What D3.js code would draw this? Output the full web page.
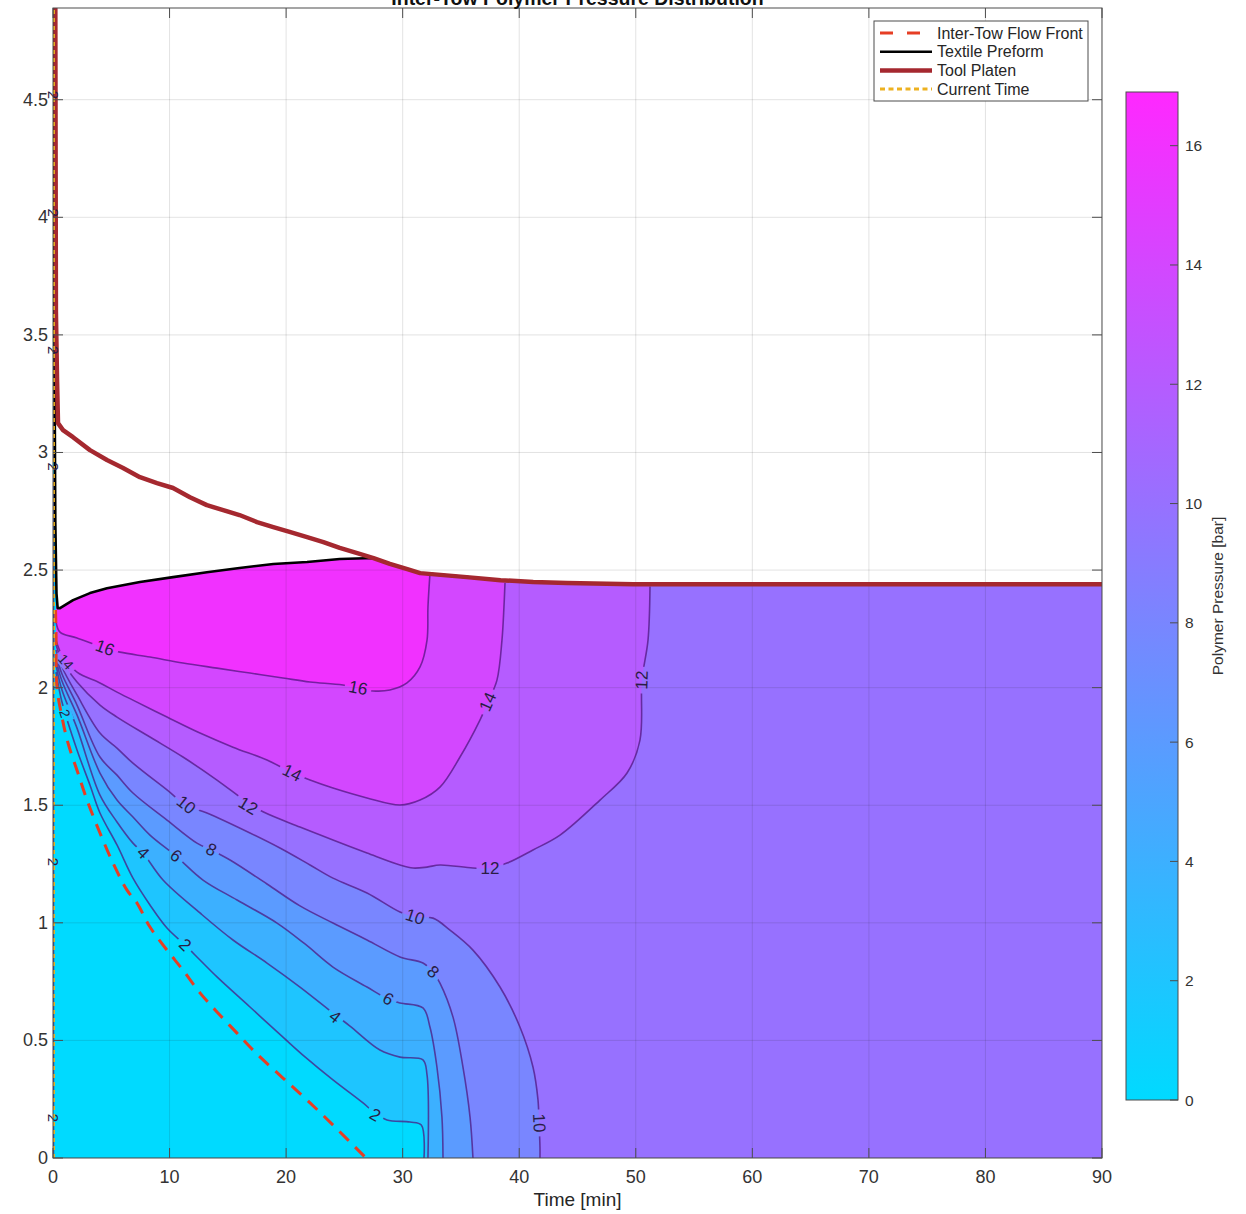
<!DOCTYPE html>
<html><head><meta charset="utf-8">
<script src="https://cdn.jsdelivr.net/npm/d3@7"></script>
<style>
body{margin:0;background:#fff;}
text{font-family:"Liberation Sans",Arial,Helvetica,sans-serif;}
</style>
</head><body>
<svg id="chart" width="1246" height="1214"></svg>
<script>
// ---------------- DATA ----------------
const xDomain = [0, 90];
const yDomain = [0, 4.89];
const xTicks = [0,10,20,30,40,50,60,70,80,90];
const yTicks = [0,0.5,1,1.5,2,2.5,3,3.5,4,4.5];
const cbTicks = [0,2,4,6,8,10,12,14,16];
const cbMax = 16.9;
const levels = [2,4,6,8,10,12,14,16];

// contour lines [time, height]
const contour2 = [[0.26,2.066],[0.77,1.939],[2.06,1.735],[3.17,1.586],[4.03,1.467],[5.49,1.331],[6.86,1.190],[8.32,1.076],[9.78,0.978],[11.32,0.906],[12.61,0.842],[14.07,0.770],[16.90,0.642],[19.73,0.514],[21.62,0.430],[24.02,0.332],[26.60,0.234],[27.63,0.191],[28.65,0.162],[30.63,0.153],[31.60,0.140],[31.83,0]];
const contour4 = [[0.26,2.096],[0.77,1.990],[2.06,1.828],[4.03,1.543],[5.49,1.429],[6.86,1.339],[7.72,1.297],[9.44,1.182],[12.61,1.042],[15.44,0.927],[18.36,0.829],[21.19,0.727],[24.19,0.610],[25.48,0.561],[28.05,0.459],[29.77,0.429],[31.74,0.417],[32.09,0.353],[32.17,0]];
const contour6 = [[0.26,2.117],[0.77,2.028],[2.06,1.884],[4.03,1.637],[5.49,1.522],[6.86,1.450],[8.32,1.373],[10.55,1.284],[12.87,1.182],[15.79,1.097],[19.22,0.999],[21.62,0.910],[24.02,0.812],[26.94,0.727],[28.74,0.676],[29.77,0.659],[31.74,0.638],[32.34,0.557],[32.94,0.387],[33.37,0.174],[33.46,0]];
const contour8 = [[0.26,2.139],[0.77,2.058],[2.06,1.926],[4.03,1.705],[5.49,1.628],[6.86,1.552],[9.78,1.437],[12.35,1.339],[13.56,1.310],[15.19,1.267],[18.36,1.165],[21.19,1.072],[24.02,0.999],[26.94,0.927],[29.77,0.855],[31.74,0.829],[32.60,0.791],[33.20,0.744],[34.32,0.599],[35.17,0.387],[35.78,0.174],[36.03,0]];
const contour10 = [[0.26,2.160],[0.77,2.088],[2.06,1.969],[4.03,1.807],[5.49,1.743],[6.86,1.679],[9.78,1.565],[11.41,1.501],[13.21,1.467],[16.90,1.382],[19.47,1.318],[22.05,1.246],[24.02,1.190],[26.94,1.127],[29.77,1.046],[31.06,1.025],[32.60,1.020],[34.06,0.969],[36.03,0.884],[38.35,0.727],[40.06,0.557],[41.18,0.387],[41.61,0.247],[41.70,0.149],[41.78,0.047],[41.78,0]];
const contour12 = [[0.26,2.181],[0.77,2.117],[2.06,2.024],[4.03,1.926],[5.49,1.875],[8.32,1.790],[11.15,1.705],[14.07,1.607],[16.73,1.510],[18.02,1.472],[21.19,1.407],[24.02,1.352],[26.94,1.297],[29.77,1.246],[30.89,1.233],[32.09,1.237],[33.20,1.246],[36.03,1.233],[37.49,1.233],[38.95,1.254],[41.18,1.310],[43.50,1.373],[46.93,1.522],[49.25,1.637],[50.36,1.777],[50.53,2.032],[51.05,2.202],[51.22,2.430]];
const contour14 = [[0.26,2.202],[0.77,2.139],[2.06,2.066],[4.03,2.020],[5.49,1.981],[6.86,1.947],[9.78,1.875],[12.61,1.807],[15.44,1.747],[18.36,1.692],[20.59,1.637],[22.05,1.607],[24.02,1.573],[26.94,1.531],[29.77,1.501],[31.49,1.522],[33.20,1.577],[34.92,1.705],[36.63,1.862],[37.32,1.939],[38.09,2.032],[38.52,2.202],[38.69,2.343],[38.78,2.445]];
const contour16 = [[0.26,2.280],[0.60,2.236],[2.06,2.211],[4.46,2.168],[5.75,2.151],[8.32,2.130],[11.15,2.105],[14.07,2.083],[16.90,2.062],[19.73,2.041],[22.05,2.024],[24.88,2.011],[27.45,1.986],[28.91,1.990],[30.37,2.020],[31.49,2.088],[32.09,2.202],[32.17,2.343],[32.34,2.484]];
const edgeContour2 = [[0.04,0],[0.04,4.89]];
const edgeLabelHeights = [4.52,4.02,3.435,2.94,1.259,0.17];

// contour labels [level, time, height]
const contourLabels = [
  [16,4.46,2.168],[16,26.17,1.998],
  [14,20.50,1.637],[14,37.32,1.939],[14,1.10,2.110],
  [12,16.73,1.497],[12,37.49,1.233],[12,50.53,2.032],
  [10,11.41,1.501],[10,31.06,1.025],[10,41.70,0.149],
  [8,13.56,1.310],[8,32.60,0.791],
  [6,10.55,1.284],[6,28.74,0.676],
  [4,7.72,1.297],[4,24.19,0.600],
  [2,11.32,0.906],[2,27.63,0.183],[2,1.03,1.890]
];

const flowFront = [[0.22,2.330],[0.26,2.232],[0.34,2.003],[0.77,1.875],[1.29,1.764],[2.14,1.637],[2.92,1.522],[4.03,1.382],[5.15,1.254],[6.35,1.139],[7.21,1.084],[8.32,0.982],[9.78,0.884],[11.15,0.799],[12.61,0.702],[14.07,0.621],[15.79,0.531],[17.50,0.442],[19.73,0.340],[21.79,0.247],[24.19,0.132],[26.85,0]];
const preform = [[0.08,4.89],[0.12,3.5],[0.20,2.70],[0.30,2.40],[0.40,2.338],[0.60,2.338],[1.72,2.372],[3.17,2.402],[4.63,2.423],[7.46,2.449],[10.3,2.470],[13.2,2.491],[16.0,2.509],[18.9,2.526],[21.8,2.534],[24.6,2.547],[27.5,2.551],[28.9,2.526],[30.4,2.504],[31.5,2.487],[35.5,2.470],[38.4,2.457],[41.2,2.449],[44.1,2.445],[49.8,2.440],[90,2.440]];
const platen = [[0.20,4.89],[0.25,3.60],[0.35,3.30],[0.43,3.125],[0.86,3.095],[1.72,3.065],[3.17,3.010],[4.63,2.968],[6.01,2.934],[7.46,2.895],[8.92,2.870],[10.3,2.849],[11.75,2.810],[13.2,2.776],[14.6,2.755],[16.0,2.734],[17.5,2.704],[18.9,2.683],[20.3,2.662],[21.8,2.640],[23.2,2.619],[24.6,2.594],[26.1,2.572],[27.5,2.551],[28.9,2.526],[30.4,2.504],[31.5,2.487],[35.5,2.470],[38.4,2.457],[41.2,2.449],[44.1,2.445],[49.8,2.440],[90,2.440]];
const currentTime = [[0.06,0],[0.06,4.89]];
const legendLabels = ["Inter-Tow Flow Front","Textile Preform","Tool Platen","Current Time"];

const titleText = "Inter-Tow Polymer Pressure Distribution";
const xLabelText = "Time [min]";
const cbLabelText = "Polymer Pressure [bar]";

// ---------------- DRAW ----------------
const contourByLevel = {2:contour2,4:contour4,6:contour6,8:contour8,10:contour10,12:contour12,14:contour14,16:contour16};
const svg = d3.select("#chart");
const defs = svg.append("defs");
const L = 53, R = 1102, T = 8, B = 1158;
const x = d3.scaleLinear(xDomain, [L, R]);
const y = d3.scaleLinear(yDomain, [B, T]);
const color = d3.scaleLinear([0, cbMax], ["#00daff", "#ff28ff"]).interpolate(d3.interpolateRgb);
const axisGray = "#4d4d4d";

defs.append("clipPath").attr("id","plotclip").append("rect")
  .attr("x",L).attr("y",T).attr("width",R-L).attr("height",B-T);

const smooth = d3.line().x(d=>x(d[0])).y(d=>y(d[1])).curve(d3.curveCatmullRom.alpha(0.5));
const straight = d3.line().x(d=>x(d[0])).y(d=>y(d[1]));

function upperBetween(t0, t1){ return preform.filter(p => p[0] > t0 && p[0] < t1).slice().reverse(); }
function bandPath(pts){
  const last = pts[pts.length-1];
  let tail = [];
  if (last[1] <= 1e-6) { tail.push([90,0]); tail = tail.concat(upperBetween(pts[0][0], 90.01)); }
  else tail = upperBetween(pts[0][0], last[0]);
  return smooth(pts) + tail.map(p => `L${x(p[0])},${y(p[1])}`).join("") + "Z";
}

const plot = svg.append("g").attr("clip-path","url(#plotclip)");

// base fill (level 0)
const basePts = [[0,0],[90,0]].concat(preform.slice().reverse()).concat([[0,4.89]]);
plot.append("path").attr("d", straight(basePts) + "Z").attr("fill", color(0));
levels.forEach(lv => {
  plot.append("path").attr("d", bandPath(contourByLevel[lv])).attr("fill", color(lv));
});

// grid
const grid = plot.append("g").attr("stroke","#262626").attr("stroke-opacity",0.13).attr("stroke-width",1);
xTicks.forEach(t => grid.append("line").attr("x1",x(t)).attr("x2",x(t)).attr("y1",T).attr("y2",B));
yTicks.forEach(t => grid.append("line").attr("y1",y(t)).attr("y2",y(t)).attr("x1",L).attr("x2",R));

// label angle from contour direction
function angleAt(pts, t, h){
  const px = x(t), py = y(h);
  let best = 1e9, ang = 0;
  for (let i=0;i<pts.length-1;i++){
    const ax=x(pts[i][0]), ay=y(pts[i][1]), bx=x(pts[i+1][0]), by=y(pts[i+1][1]);
    const dx=bx-ax, dy=by-ay, len2=dx*dx+dy*dy||1;
    let u=((px-ax)*dx+(py-ay)*dy)/len2; u=Math.max(0,Math.min(1,u));
    const qx=ax+u*dx, qy=ay+u*dy, d=(px-qx)**2+(py-qy)**2;
    if (d<best){best=d; ang=Math.atan2(dy,dx)*180/Math.PI;}
  }
  if (ang > 91) ang -= 180;
  if (ang < -91) ang += 180;
  return ang;
}
const allLabels = contourLabels.map(d => ({lv:d[0], t:d[1], h:d[2], fs: d[1] < 2 ? 14 : 17, ang:angleAt(contourByLevel[d[0]], d[1], d[2])}))
  .concat(edgeLabelHeights.map(h => ({lv:2, t:edgeContour2[0][0], h:h, fs:15, ang:90})));

const mask = defs.append("mask").attr("id","lblmask").attr("maskUnits","userSpaceOnUse")
  .attr("x",0).attr("y",0).attr("width",1246).attr("height",1214);
mask.append("rect").attr("width",1246).attr("height",1214).attr("fill","white");

const lineG = plot.append("g").attr("mask","url(#lblmask)").attr("fill","none")
  .attr("stroke","rgba(78,20,125,0.72)").attr("stroke-width",1.6);
levels.forEach(lv => lineG.append("path").attr("d", smooth(contourByLevel[lv])));
lineG.append("path").attr("d", straight(edgeContour2));

// overlay lines
plot.append("path").attr("d", smooth(flowFront)).attr("fill","none")
  .attr("stroke","#e63e24").attr("stroke-width",3).attr("stroke-dasharray","13,9");
plot.append("path").attr("d", straight(preform)).attr("fill","none")
  .attr("stroke","#000").attr("stroke-width",2.6).attr("stroke-linejoin","round");
plot.append("path").attr("d", straight(platen)).attr("fill","none")
  .attr("stroke","#a5282f").attr("stroke-width",4.5).attr("stroke-linejoin","round");
plot.append("path").attr("d", straight(currentTime)).attr("fill","none")
  .attr("stroke","#edb120").attr("stroke-width",2.5).attr("stroke-dasharray","4,4");

// contour labels (not clipped)
const lblG = svg.append("g");
allLabels.forEach(d => {
  const px = x(d.t), py = y(d.h);
  const txt = lblG.append("text").text(d.lv)
    .attr("transform",`translate(${px},${py}) rotate(${d.ang})`)
    .attr("text-anchor","middle").attr("dominant-baseline","central")
    .attr("font-size", d.fs).attr("fill","#2a1d45");
  const w = txt.node().getComputedTextLength() + 8;
  mask.append("rect").attr("x",-w/2).attr("y",-7).attr("width",w).attr("height",14)
    .attr("fill","black").attr("transform",`translate(${px},${py}) rotate(${d.ang})`);
});

// axes box and ticks
const ax = svg.append("g").attr("stroke",axisGray).attr("stroke-width",1);
ax.append("rect").attr("x",L).attr("y",T).attr("width",R-L).attr("height",B-T).attr("fill","none");
const tl = 10;
xTicks.forEach(t => {
  ax.append("line").attr("x1",x(t)).attr("x2",x(t)).attr("y1",B).attr("y2",B-tl);
  ax.append("line").attr("x1",x(t)).attr("x2",x(t)).attr("y1",T).attr("y2",T+tl);
});
yTicks.forEach(t => {
  ax.append("line").attr("y1",y(t)).attr("y2",y(t)).attr("x1",L).attr("x2",L+tl);
  ax.append("line").attr("y1",y(t)).attr("y2",y(t)).attr("x1",R).attr("x2",R-tl);
});
const tickFmt = d3.format("~g");
svg.append("g").selectAll("text").data(xTicks).join("text")
  .attr("x",d=>x(d)).attr("y",B+25).attr("text-anchor","middle")
  .attr("font-size",18).attr("fill","#333").text(d=>tickFmt(d));
svg.append("g").selectAll("text").data(yTicks).join("text")
  .attr("x",L-5).attr("y",d=>y(d)).attr("text-anchor","end").attr("dominant-baseline","central")
  .attr("font-size",18).attr("fill","#333").text(d=>tickFmt(d));

svg.append("text").attr("x",(L+R)/2).attr("y",1206).attr("text-anchor","middle")
  .attr("font-size",19).attr("fill","#262626").text(xLabelText);
svg.append("text").attr("x",(L+R)/2).attr("y",5).attr("text-anchor","middle")
  .attr("font-size",19.5).attr("font-weight","bold").attr("fill","#111").text(titleText);

// legend
const lg = svg.append("g");
lg.append("rect").attr("x",874).attr("y",21).attr("width",214).attr("height",80)
  .attr("fill","#fff").attr("stroke",axisGray).attr("stroke-width",1);
const legendStyles = [
  {stroke:"#e63e24", w:3, dash:"13,14"},
  {stroke:"#000", w:2.6, dash:null},
  {stroke:"#a5282f", w:4.5, dash:null},
  {stroke:"#edb120", w:3, dash:"5,3.5"}
];
legendLabels.forEach((name,i) => {
  const yy = 33 + i*18.7;
  const s = legendStyles[i];
  const ln = lg.append("line").attr("x1",880).attr("x2",932).attr("y1",yy).attr("y2",yy)
    .attr("stroke",s.stroke).attr("stroke-width",s.w);
  if (s.dash) ln.attr("stroke-dasharray",s.dash);
  lg.append("text").attr("x",937).attr("y",yy).attr("dominant-baseline","central")
    .attr("font-size",16).attr("fill","#262626").text(name);
});

// colorbar
const cbX = 1126, cbW = 52;
const cbY = d3.scaleLinear([0, cbMax], [1100, 92]);
const grad = defs.append("linearGradient").attr("id","cbgrad").attr("x1",0).attr("y1",1).attr("x2",0).attr("y2",0);
grad.append("stop").attr("offset","0%").attr("stop-color",color(0));
grad.append("stop").attr("offset","100%").attr("stop-color",color(cbMax));
svg.append("rect").attr("x",cbX).attr("y",cbY(cbMax)).attr("width",cbW).attr("height",cbY(0)-cbY(cbMax))
  .attr("fill","url(#cbgrad)").attr("stroke",axisGray).attr("stroke-width",1);
const cbG = svg.append("g");
cbTicks.forEach(t => {
  cbG.append("line").attr("x1",cbX+cbW-8).attr("x2",cbX+cbW).attr("y1",cbY(t)).attr("y2",cbY(t))
    .attr("stroke",axisGray).attr("stroke-width",1);
  cbG.append("text").attr("x",cbX+cbW+7).attr("y",cbY(t)).attr("dominant-baseline","central")
    .attr("font-size",15.5).attr("fill","#333").text(t);
});
svg.append("text").attr("transform",`translate(1217,${(cbY(0)+cbY(cbMax))/2}) rotate(-90)`)
  .attr("text-anchor","middle").attr("dominant-baseline","central")
  .attr("font-size",15.5).attr("fill","#333").text(cbLabelText);
</script>
</body></html>
